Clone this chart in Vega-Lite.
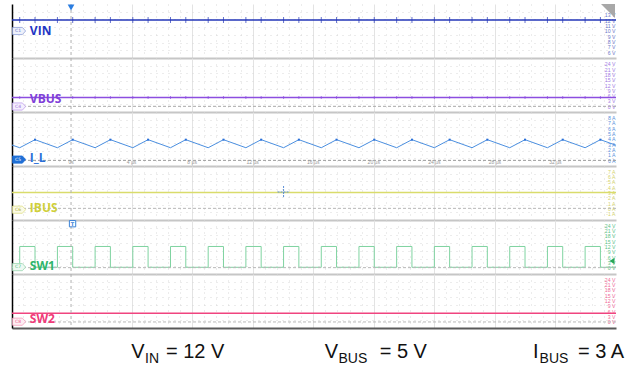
{
"$schema":"https://vega.github.io/schema/vega-lite/v6.json",
"padding":{"left":9,"top":3,"right":0,"bottom":0},
"background":"white",
"spacing":0,
"bounds":"flush",
"config":{"view":{"stroke":null}},
"datasets":{
"flat":[{"t":-3.9,"vin":12,"vbus":4.9,"ibus":3.0,"sw2":4.9},{"t":36,"vin":12,"vbus":4.9,"ibus":3.0,"sw2":4.9}],
"sw":[
{"t":-3.9,"s":0.2,"i":2.85},
{"t":-3.39,"s":12,"i":2.35},{"t":-2.38,"s":0.2,"i":3.85},
{"t":-0.9,"s":12,"i":2.35},{"t":0.11,"s":0.2,"i":3.85},
{"t":1.59,"s":12,"i":2.35},{"t":2.6,"s":0.2,"i":3.85},
{"t":4.08,"s":12,"i":2.35},{"t":5.09,"s":0.2,"i":3.85},
{"t":6.57,"s":12,"i":2.35},{"t":7.58,"s":0.2,"i":3.85},
{"t":9.06,"s":12,"i":2.35},{"t":10.07,"s":0.2,"i":3.85},
{"t":11.55,"s":12,"i":2.35},{"t":12.56,"s":0.2,"i":3.85},
{"t":14.04,"s":12,"i":2.35},{"t":15.05,"s":0.2,"i":3.85},
{"t":16.53,"s":12,"i":2.35},{"t":17.54,"s":0.2,"i":3.85},
{"t":19.02,"s":12,"i":2.35},{"t":20.03,"s":0.2,"i":3.85},
{"t":21.51,"s":12,"i":2.35},{"t":22.52,"s":0.2,"i":3.85},
{"t":24.0,"s":12,"i":2.35},{"t":25.01,"s":0.2,"i":3.85},
{"t":26.49,"s":12,"i":2.35},{"t":27.5,"s":0.2,"i":3.85},
{"t":28.98,"s":12,"i":2.35},{"t":29.99,"s":0.2,"i":3.85},
{"t":31.47,"s":12,"i":2.35},{"t":32.48,"s":0.2,"i":3.85},
{"t":33.96,"s":12,"i":2.35},{"t":34.97,"s":0.2,"i":3.85},
{"t":36,"s":0.2,"i":2.81}],
"time":[{"t":0,"lab":"0s"},{"t":4,"lab":"4 µs"},{"t":8,"lab":"8 µs"},{"t":12,"lab":"12 µs"},{"t":16,"lab":"16 µs"},{"t":20,"lab":"20 µs"},{"t":24,"lab":"24 µs"},{"t":28,"lab":"28 µs"},{"t":32,"lab":"32 µs"}],
"notes":[{"t":3.98,"txt":"V","k":"m"},{"t":4.89,"txt":"IN","k":"s"},{"t":6.27,"txt":"= 12 V","k":"m"},
{"t":16.76,"txt":"V","k":"m"},{"t":17.67,"txt":"BUS","k":"s"},{"t":20.39,"txt":"= 5 V","k":"m"},
{"t":30.52,"txt":"I","k":"m"},{"t":30.95,"txt":"BUS","k":"s"},{"t":33.49,"txt":"= 3 A","k":"m"}]
},
"vconcat":[
{
"width":604,"height":54,
"resolve":{"axis":{"x":"independent","y":"independent"}},
"layer":[
{"data":{"name":"flat"},"mark":{"type":"line","color":"#2336b8","strokeWidth":1.5},
"encoding":{"x":{"field":"t","type":"quantitative","scale":{"domain":[-3.9,36],"nice":false,"zero":false},"axis":{"orient":"bottom","title":null,"labels":false,"ticks":false,"domain":true,"domainColor":"#c6c6c6","domainWidth":2,"grid":true,"values":[4,8,12,16,20,24,28,32],"gridColor":"#e3e3e3"}},
"y":{"field":"vin","type":"quantitative","scale":{"domain":[4.9,15],"nice":false,"zero":false},"axis":{"orient":"left","title":null,"labels":false,"ticks":false,"domain":true,"domainColor":"#000000","domainWidth":1.5,"grid":true,"values":[6.34,7.79,9.23,10.67,12.11,13.56],"gridColor":"#d9d9d9","gridDash":[1,5]}}}},
{"data":{"name":"sw"},"transform":[{"filter":"datum.t > -3.8 && datum.t < 35.9"}],"mark":{"type":"tick","orient":"vertical","color":"#2336b8","size":6,"thickness":1},
"encoding":{"x":{"field":"t","type":"quantitative","axis":null},"y":{"datum":12,"type":"quantitative","axis":null}}},
{"data":{"values":[{}]},"mark":{"type":"rule","color":"#b0b0b0","strokeDash":[3,3]},
"encoding":{"x":{"datum":0,"type":"quantitative","axis":{"orient":"top","title":null,"labels":false,"ticks":false,"domain":false,"grid":true,"values":[-3.2,-2.4,-1.6,-0.8,0.8,1.6,2.4,3.2,4.8,5.6,6.4,7.2,8.8,9.6,10.4,11.2,12.8,13.6,14.4,15.2,16.8,17.6,18.4,19.2,20.8,21.6,22.4,23.2,24.8,25.6,26.4,27.2,28.8,29.6,30.4,31.2,32.8,33.6,34.4,35.2],"gridColor":"#d9d9d9","gridDash":[1,5]}}}},
{"data":{"values":[{}]},"mark":{"type":"point","shape":"M -1 -0.55 L 0.5 -0.55 L 1 0 L 0.5 0.55 L -1 0.55 Z","size":169,"filled":true,"fill":"#eef1fb","stroke":"#8fa0d8","strokeWidth":0.8,"opacity":1},
"encoding":{"x":{"datum":-3.43,"type":"quantitative","axis":null},"y":{"datum":9.95,"type":"quantitative","axis":null}}},
{"data":{"values":[{}]},"mark":{"type":"text","text":"C1","fontSize":4.5,"color":"#5b6fc8","font":"DejaVu Sans","dx":-1},
"encoding":{"x":{"datum":-3.43,"type":"quantitative","axis":null},"y":{"datum":9.95,"type":"quantitative","axis":null}}},
{"data":{"values":[{}]},"mark":{"type":"text","text":"VIN","align":"left","baseline":"middle","font":"Open Sans","fontWeight":"bold","fontSize":12,"color":"#1f36c4"},
"encoding":{"x":{"datum":-2.72,"type":"quantitative","axis":null},"y":{"datum":10.04,"type":"quantitative","axis":{"orient":"right","title":null,"ticks":false,"domain":false,"grid":false,"values":[6,7,8,9,10,11,12,13],"labelExpr":"datum.value + ' V'","labelAlign":"right","labelBaseline":"middle","labelPadding":-1,"labelFontSize":5.2,"labelFont":"Liberation Sans","labelColor":"#6a78c8","labelOverlap":false}}}},
{"data":{"values":[{}]},"mark":{"type":"point","shape":"M -1 -1 L 1 -1 L 1 1 Z","size":196,"filled":true,"fill":"#a8a8a8","opacity":1},
"encoding":{"x":{"datum":35.47,"type":"quantitative","axis":null},"y":{"datum":13.69,"type":"quantitative","axis":null}}},
{"data":{"values":[{}]},"mark":{"type":"point","shape":"triangle-down","size":45,"filled":true,"fill":"#2a7de1","opacity":1},
"encoding":{"x":{"datum":0,"type":"quantitative","axis":null},"y":{"datum":14.35,"type":"quantitative","axis":null}}}
]
},
{
"width":604,"height":54,
"resolve":{"axis":{"x":"independent","y":"independent"}},
"layer":[
{"data":{"name":"flat"},"mark":{"type":"line","color":"#8c4ee0","strokeWidth":1.5},
"encoding":{"x":{"field":"t","type":"quantitative","scale":{"domain":[-3.9,36],"nice":false,"zero":false},"axis":{"orient":"bottom","title":null,"labels":false,"ticks":false,"domain":true,"domainColor":"#c6c6c6","domainWidth":2,"grid":true,"values":[4,8,12,16,20,24,28,32],"gridColor":"#e3e3e3"}},
"y":{"field":"vbus","type":"quantitative","scale":{"domain":[-3.2,27.2],"nice":false,"zero":false},"axis":{"orient":"left","title":null,"labels":false,"ticks":false,"domain":true,"domainColor":"#000000","domainWidth":1.5,"grid":true,"values":[1.14,5.49,9.83,14.17,18.51,22.86],"gridColor":"#d9d9d9","gridDash":[1,5]}}}},
{"data":{"name":"sw"},"transform":[{"filter":"datum.t > -3.8 && datum.t < 35.9"}],"mark":{"type":"tick","orient":"vertical","color":"#8c4ee0","size":3,"thickness":1},
"encoding":{"x":{"field":"t","type":"quantitative","axis":null},"y":{"datum":4.9,"type":"quantitative","axis":null}}},
{"data":{"values":[{}]},"mark":{"type":"rule","color":"#b0b0b0","strokeDash":[3,3]},
"encoding":{"x":{"datum":0,"type":"quantitative","axis":{"orient":"top","title":null,"labels":false,"ticks":false,"domain":false,"grid":true,"values":[-3.2,-2.4,-1.6,-0.8,0.8,1.6,2.4,3.2,4.8,5.6,6.4,7.2,8.8,9.6,10.4,11.2,12.8,13.6,14.4,15.2,16.8,17.6,18.4,19.2,20.8,21.6,22.4,23.2,24.8,25.6,26.4,27.2,28.8,29.6,30.4,31.2,32.8,33.6,34.4,35.2],"gridColor":"#d9d9d9","gridDash":[1,5]}}}},
{"data":{"values":[{}]},"mark":{"type":"rule","color":"#a8a8a8","strokeDash":[3,2]},
"encoding":{"y":{"datum":0,"type":"quantitative","axis":{"orient":"right","title":null,"ticks":false,"domain":false,"grid":false,"values":[0,3,6,9,12,15,18,21,24],"labelExpr":"datum.value + ' V'","labelAlign":"right","labelBaseline":"middle","labelPadding":-1,"labelFontSize":5.2,"labelFont":"Liberation Sans","labelColor":"#a27ce4","labelOverlap":false}}}},
{"data":{"values":[{}]},"mark":{"type":"point","shape":"M -1 -0.55 L 0.5 -0.55 L 1 0 L 0.5 0.55 L -1 0.55 Z","size":169,"filled":true,"fill":"#f5effd","stroke":"#c0a0ee","strokeWidth":0.8,"opacity":1},
"encoding":{"x":{"datum":-3.43,"type":"quantitative","axis":null},"y":{"datum":-0.11,"type":"quantitative","axis":null}}},
{"data":{"values":[{}]},"mark":{"type":"text","text":"C4","fontSize":4.5,"color":"#9c6ce0","font":"DejaVu Sans","dx":-1},
"encoding":{"x":{"datum":-3.43,"type":"quantitative","axis":null},"y":{"datum":-0.11,"type":"quantitative","axis":null}}},
{"data":{"values":[{}]},"mark":{"type":"text","text":"VBUS","align":"left","baseline":"middle","font":"Open Sans","fontWeight":"bold","fontSize":12,"color":"#8040d8"},
"encoding":{"x":{"datum":-2.72,"type":"quantitative","axis":null},"y":{"datum":4.4,"type":"quantitative","axis":null}}}
]
},
{
"width":604,"height":54,
"resolve":{"axis":{"x":"independent","y":"independent"}},
"layer":[
{"data":{"name":"sw"},"mark":{"type":"line","color":"#4b8fe0","strokeWidth":1},
"encoding":{"x":{"field":"t","type":"quantitative","scale":{"domain":[-3.9,36],"nice":false,"zero":false},"axis":{"orient":"bottom","title":null,"labels":false,"ticks":false,"domain":true,"domainColor":"#c6c6c6","domainWidth":2,"grid":true,"values":[4,8,12,16,20,24,28,32],"gridColor":"#e3e3e3"}},
"y":{"field":"i","type":"quantitative","scale":{"domain":[-1.05,9],"nice":false,"zero":false},"axis":{"orient":"left","title":null,"labels":false,"ticks":false,"domain":true,"domainColor":"#000000","domainWidth":1.5,"grid":true,"values":[0.39,1.82,3.26,4.69,6.13,7.56],"gridColor":"#d9d9d9","gridDash":[1,5]}}}},
{"data":{"name":"sw"},"transform":[{"filter":"datum.i > 3.5"}],"mark":{"type":"point","shape":"square","size":4,"filled":true,"color":"#2a6fd8","opacity":1},
"encoding":{"x":{"field":"t","type":"quantitative","axis":null},"y":{"field":"i","type":"quantitative","axis":null}}},
{"data":{"values":[{}]},"mark":{"type":"rule","color":"#b0b0b0","strokeDash":[3,3]},
"encoding":{"x":{"datum":0,"type":"quantitative","axis":{"orient":"top","title":null,"labels":false,"ticks":false,"domain":false,"grid":true,"values":[-3.2,-2.4,-1.6,-0.8,0.8,1.6,2.4,3.2,4.8,5.6,6.4,7.2,8.8,9.6,10.4,11.2,12.8,13.6,14.4,15.2,16.8,17.6,18.4,19.2,20.8,21.6,22.4,23.2,24.8,25.6,26.4,27.2,28.8,29.6,30.4,31.2,32.8,33.6,34.4,35.2],"gridColor":"#d9d9d9","gridDash":[1,5]}}}},
{"data":{"values":[{}]},"mark":{"type":"rule","color":"#999999","strokeDash":[3,2]},
"encoding":{"y":{"datum":0,"type":"quantitative","axis":{"orient":"right","title":null,"ticks":false,"domain":false,"grid":false,"values":[0,1,2,3,4,5,6,7,8],"labelExpr":"datum.value + ' A'","labelAlign":"right","labelBaseline":"middle","labelPadding":-1,"labelFontSize":5.2,"labelFont":"Liberation Sans","labelColor":"#5a92dc","labelOverlap":false}}}},
{"data":{"name":"time"},"mark":{"type":"text","align":"center","baseline":"middle","font":"Liberation Sans","fontSize":5,"color":"#999999"},
"encoding":{"x":{"field":"t","type":"quantitative","axis":null},"y":{"datum":-0.31,"type":"quantitative","axis":null},"text":{"field":"lab"}}},
{"data":{"values":[{}]},"mark":{"type":"point","shape":"M -1 -0.55 L 0.5 -0.55 L 1 0 L 0.5 0.55 L -1 0.55 Z","size":169,"filled":true,"fill":"#1f6fd6","stroke":"#1f6fd6","strokeWidth":0.8,"opacity":1},
"encoding":{"x":{"datum":-3.43,"type":"quantitative","axis":null},"y":{"datum":0.15,"type":"quantitative","axis":null}}},
{"data":{"values":[{}]},"mark":{"type":"text","text":"C5","fontSize":4.5,"color":"#ffffff","font":"DejaVu Sans","dx":-1},
"encoding":{"x":{"datum":-3.43,"type":"quantitative","axis":null},"y":{"datum":0.15,"type":"quantitative","axis":null}}},
{"data":{"values":[{}]},"mark":{"type":"text","text":"I_L","align":"left","baseline":"middle","font":"Open Sans","fontWeight":"bold","fontSize":12,"color":"#2a6fd8"},
"encoding":{"x":{"datum":-2.72,"type":"quantitative","axis":null},"y":{"datum":0.35,"type":"quantitative","axis":null}}}
]
},
{
"width":604,"height":54,
"resolve":{"axis":{"x":"independent","y":"independent"}},
"layer":[
{"data":{"name":"flat"},"mark":{"type":"line","color":"#d9dc6b","strokeWidth":1.5},
"encoding":{"x":{"field":"t","type":"quantitative","scale":{"domain":[-3.9,36],"nice":false,"zero":false},"axis":{"orient":"bottom","title":null,"labels":false,"ticks":false,"domain":true,"domainColor":"#c6c6c6","domainWidth":2,"grid":true,"values":[4,8,12,16,20,24,28,32],"gridColor":"#e3e3e3"}},
"y":{"field":"ibus","type":"quantitative","scale":{"domain":[-2.2,8],"nice":false,"zero":false},"axis":{"orient":"left","title":null,"labels":false,"ticks":false,"domain":true,"domainColor":"#000000","domainWidth":1.5,"grid":true,"values":[-0.74,0.71,2.17,3.63,5.09,6.54],"gridColor":"#d9d9d9","gridDash":[1,5]}}}},
{"data":{"values":[{}]},"mark":{"type":"rule","color":"#b0b0b0","strokeDash":[3,3]},
"encoding":{"x":{"datum":0,"type":"quantitative","axis":{"orient":"top","title":null,"labels":false,"ticks":false,"domain":false,"grid":true,"values":[-3.2,-2.4,-1.6,-0.8,0.8,1.6,2.4,3.2,4.8,5.6,6.4,7.2,8.8,9.6,10.4,11.2,12.8,13.6,14.4,15.2,16.8,17.6,18.4,19.2,20.8,21.6,22.4,23.2,24.8,25.6,26.4,27.2,28.8,29.6,30.4,31.2,32.8,33.6,34.4,35.2],"gridColor":"#d9d9d9","gridDash":[1,5]}}}},
{"data":{"values":[{}]},"mark":{"type":"rule","color":"#b8b8b8","strokeDash":[3,2]},
"encoding":{"y":{"datum":0,"type":"quantitative","axis":{"orient":"right","title":null,"ticks":false,"domain":false,"grid":false,"values":[-1,0,1,2,3,4,5,6,7],"labelExpr":"datum.value + ' A'","labelAlign":"right","labelBaseline":"middle","labelPadding":-1,"labelFontSize":5.2,"labelFont":"Liberation Sans","labelColor":"#d4d470","labelOverlap":false}}}},
{"data":{"values":[{}]},"mark":{"type":"point","shape":"M -1 0 L 1 0 M 0 -1 L 0 1","size":144,"filled":false,"stroke":"#5a8fd8","strokeWidth":1,"strokeDash":[2,1],"opacity":1},
"encoding":{"x":{"datum":14.04,"type":"quantitative","axis":null},"y":{"datum":3.09,"type":"quantitative","axis":null}}},
{"data":{"values":[{}]},"mark":{"type":"point","shape":"M -1 -0.55 L 0.5 -0.55 L 1 0 L 0.5 0.55 L -1 0.55 Z","size":169,"filled":true,"fill":"#fbfbe6","stroke":"#e0e08a","strokeWidth":0.8,"opacity":1},
"encoding":{"x":{"datum":-3.43,"type":"quantitative","axis":null},"y":{"datum":-0.25,"type":"quantitative","axis":null}}},
{"data":{"values":[{}]},"mark":{"type":"text","text":"C6","fontSize":4.5,"color":"#a8a830","font":"DejaVu Sans","dx":-1},
"encoding":{"x":{"datum":-3.43,"type":"quantitative","axis":null},"y":{"datum":-0.25,"type":"quantitative","axis":null}}},
{"data":{"values":[{}]},"mark":{"type":"text","text":"IBUS","align":"left","baseline":"middle","font":"Open Sans","fontWeight":"bold","fontSize":12,"color":"#cfcf3a"},
"encoding":{"x":{"datum":-2.72,"type":"quantitative","axis":null},"y":{"datum":0.03,"type":"quantitative","axis":null}}}
]
},
{
"width":604,"height":54,
"resolve":{"axis":{"x":"independent","y":"independent"}},
"layer":[
{"data":{"name":"sw"},"mark":{"type":"line","color":"#7fd3a0","strokeWidth":1,"interpolate":"step-after"},
"encoding":{"x":{"field":"t","type":"quantitative","scale":{"domain":[-3.9,36],"nice":false,"zero":false},"axis":{"orient":"bottom","title":null,"labels":false,"ticks":false,"domain":true,"domainColor":"#c6c6c6","domainWidth":2,"grid":true,"values":[4,8,12,16,20,24,28,32],"gridColor":"#e3e3e3"}},
"y":{"field":"s","type":"quantitative","scale":{"domain":[-3.6,27],"nice":false,"zero":false},"axis":{"orient":"left","title":null,"labels":false,"ticks":false,"domain":true,"domainColor":"#000000","domainWidth":1.5,"grid":true,"values":[0.77,5.14,9.51,13.89,18.26,22.63],"gridColor":"#d9d9d9","gridDash":[1,5]}}}},
{"data":{"values":[{}]},"mark":{"type":"rule","color":"#b0b0b0","strokeDash":[3,3]},
"encoding":{"x":{"datum":0,"type":"quantitative","axis":{"orient":"top","title":null,"labels":false,"ticks":false,"domain":false,"grid":true,"values":[-3.2,-2.4,-1.6,-0.8,0.8,1.6,2.4,3.2,4.8,5.6,6.4,7.2,8.8,9.6,10.4,11.2,12.8,13.6,14.4,15.2,16.8,17.6,18.4,19.2,20.8,21.6,22.4,23.2,24.8,25.6,26.4,27.2,28.8,29.6,30.4,31.2,32.8,33.6,34.4,35.2],"gridColor":"#d9d9d9","gridDash":[1,5]}}}},
{"data":{"values":[{}]},"mark":{"type":"rule","color":"#b8b8b8","strokeDash":[3,2]},
"encoding":{"y":{"datum":0,"type":"quantitative","axis":{"orient":"right","title":null,"ticks":false,"domain":false,"grid":false,"values":[0,3,6,9,12,15,18,21,24],"labelExpr":"datum.value + ' V'","labelAlign":"right","labelBaseline":"middle","labelPadding":-1,"labelFontSize":5.2,"labelFont":"Liberation Sans","labelColor":"#5cc489","labelOverlap":false}}}},
{"data":{"values":[{}]},"mark":{"type":"point","shape":"square","size":40,"filled":true,"fill":"#ffffff","stroke":"#3b82d6","strokeWidth":1,"opacity":1},
"encoding":{"x":{"datum":0.1,"type":"quantitative","axis":null},"y":{"datum":24.9,"type":"quantitative","axis":null}}},
{"data":{"values":[{}]},"mark":{"type":"text","text":"T","fontSize":5,"fontWeight":"bold","color":"#3b82d6","font":"DejaVu Sans"},
"encoding":{"x":{"datum":0.1,"type":"quantitative","axis":null},"y":{"datum":24.9,"type":"quantitative","axis":null}}},
{"data":{"values":[{}]},"mark":{"type":"point","shape":"triangle-left","size":35,"filled":true,"fill":"#27a85a","opacity":1},
"encoding":{"x":{"datum":35.73,"type":"quantitative","axis":null},"y":{"datum":3.77,"type":"quantitative","axis":null}}},
{"data":{"values":[{}]},"mark":{"type":"point","shape":"M -1 -0.55 L 0.5 -0.55 L 1 0 L 0.5 0.55 L -1 0.55 Z","size":169,"filled":true,"fill":"#eef9f2","stroke":"#9ad8b0","strokeWidth":0.8,"opacity":1},
"encoding":{"x":{"datum":-3.43,"type":"quantitative","axis":null},"y":{"datum":0.3,"type":"quantitative","axis":null}}},
{"data":{"values":[{}]},"mark":{"type":"text","text":"C7","fontSize":4.5,"color":"#4fbf80","font":"DejaVu Sans","dx":-1},
"encoding":{"x":{"datum":-3.43,"type":"quantitative","axis":null},"y":{"datum":0.3,"type":"quantitative","axis":null}}},
{"data":{"values":[{}]},"mark":{"type":"text","text":"SW1","align":"left","baseline":"middle","font":"Open Sans","fontWeight":"bold","fontSize":12,"color":"#2fb56b"},
"encoding":{"x":{"datum":-2.72,"type":"quantitative","axis":null},"y":{"datum":1.1,"type":"quantitative","axis":null}}}
]
},
{
"width":604,"height":54,
"resolve":{"axis":{"x":"independent","y":"independent"}},
"layer":[
{"data":{"name":"flat"},"mark":{"type":"line","color":"#f0447f","strokeWidth":1.5},
"encoding":{"x":{"field":"t","type":"quantitative","scale":{"domain":[-3.9,36],"nice":false,"zero":false},"axis":{"orient":"bottom","title":null,"labels":false,"ticks":false,"domain":true,"domainColor":"#5a5a5a","domainWidth":2,"grid":true,"values":[4,8,12,16,20,24,28,32],"gridColor":"#e3e3e3"}},
"y":{"field":"sw2","type":"quantitative","scale":{"domain":[-3.4,27],"nice":false,"zero":false},"axis":{"orient":"left","title":null,"labels":false,"ticks":false,"domain":true,"domainColor":"#000000","domainWidth":1.5,"grid":true,"values":[0.94,5.29,9.63,13.97,18.31,22.66],"gridColor":"#d9d9d9","gridDash":[1,5]}}}},
{"data":{"values":[{}]},"mark":{"type":"rule","color":"#b0b0b0","strokeDash":[3,3]},
"encoding":{"x":{"datum":0,"type":"quantitative","axis":{"orient":"top","title":null,"labels":false,"ticks":false,"domain":false,"grid":true,"values":[-3.2,-2.4,-1.6,-0.8,0.8,1.6,2.4,3.2,4.8,5.6,6.4,7.2,8.8,9.6,10.4,11.2,12.8,13.6,14.4,15.2,16.8,17.6,18.4,19.2,20.8,21.6,22.4,23.2,24.8,25.6,26.4,27.2,28.8,29.6,30.4,31.2,32.8,33.6,34.4,35.2],"gridColor":"#d9d9d9","gridDash":[1,5]}}}},
{"data":{"values":[{}]},"mark":{"type":"rule","color":"#b8b8b8","strokeDash":[3,2]},
"encoding":{"y":{"datum":0,"type":"quantitative","axis":{"orient":"right","title":null,"ticks":false,"domain":false,"grid":false,"values":[0,3,6,9,12,15,18,21,24],"labelExpr":"datum.value + ' V'","labelAlign":"right","labelBaseline":"middle","labelPadding":-1,"labelFontSize":5.2,"labelFont":"Liberation Sans","labelColor":"#f06a98","labelOverlap":false}}}},
{"data":{"values":[{}]},"mark":{"type":"point","shape":"M -1 -0.55 L 0.5 -0.55 L 1 0 L 0.5 0.55 L -1 0.55 Z","size":169,"filled":true,"fill":"#fdeef3","stroke":"#f5a0bd","strokeWidth":0.8,"opacity":1},
"encoding":{"x":{"datum":-3.43,"type":"quantitative","axis":null},"y":{"datum":0.14,"type":"quantitative","axis":null}}},
{"data":{"values":[{}]},"mark":{"type":"text","text":"C8","fontSize":4.5,"color":"#ef5a8c","font":"DejaVu Sans","dx":-1},
"encoding":{"x":{"datum":-3.43,"type":"quantitative","axis":null},"y":{"datum":0.14,"type":"quantitative","axis":null}}},
{"data":{"values":[{}]},"mark":{"type":"text","text":"SW2","align":"left","baseline":"middle","font":"Open Sans","fontWeight":"bold","fontSize":12,"color":"#ef3a78"},
"encoding":{"x":{"datum":-2.72,"type":"quantitative","axis":null},"y":{"datum":1.66,"type":"quantitative","axis":null}}}
]
},
{
"width":604,"height":39,
"data":{"name":"notes"},
"layer":[
{"transform":[{"filter":"datum.k == 'm'"}],"mark":{"type":"text","align":"left","baseline":"alphabetic","font":"Liberation Sans","fontSize":20,"color":"#111111"},
"encoding":{"x":{"field":"t","type":"quantitative","scale":{"domain":[-3.9,36],"nice":false,"zero":false},"axis":null},"y":{"datum":9.3,"type":"quantitative","scale":{"domain":[0,39],"nice":false,"zero":false},"axis":null},"text":{"field":"txt"}}},
{"transform":[{"filter":"datum.k == 's'"}],"mark":{"type":"text","align":"left","baseline":"alphabetic","font":"Liberation Sans","fontSize":14,"color":"#111111"},
"encoding":{"x":{"field":"t","type":"quantitative","axis":null},"y":{"datum":4.3,"type":"quantitative","axis":null},"text":{"field":"txt"}}}
]
}
]
}
